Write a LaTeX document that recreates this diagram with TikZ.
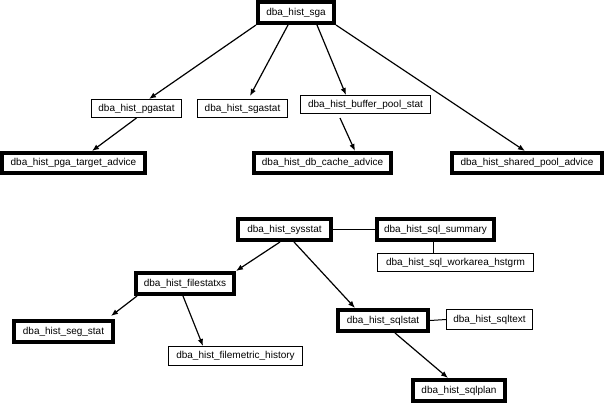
\documentclass[tikz,border=0pt]{standalone}
\usepackage{fontspec}
\setmainfont{Liberation Sans}
\usetikzlibrary{arrows.meta,calc}
\tikzset{
  tbl/.style={draw=black, fill=white, inner sep=0pt, font=\fontsize{10}{12}\selectfont},
  heavy/.style={tbl, line width=4pt},
  light/.style={tbl, line width=1pt},
  link/.style={draw=black, line width=1.2pt, -{Latex[length=7pt,width=5.5pt]}},
  plain/.style={draw=black, line width=1pt},
}
\begin{document}
\begin{tikzpicture}[x=1pt,y=-1pt]
\useasboundingbox (0,0) rectangle (605,404);
% top group
\node[heavy, minimum width=76pt, minimum height=21pt] (sga) at (296,12.5) {dba\_hist\_sga};
\node[light, minimum width=90pt, minimum height=18pt] (pgastat) at (136.5,108.5) {dba\_hist\_pgastat};
\node[light, minimum width=90pt, minimum height=18pt] (sgastat) at (242.5,108.5) {dba\_hist\_sgastat};
\node[light, minimum width=130pt, minimum height=18pt] (buffer) at (365.5,104.5) {dba\_hist\_buffer\_pool\_stat};
\node[heavy, minimum width=143pt, minimum height=20pt] (pgat) at (73.5,163) {dba\_hist\_pga\_target\_advice};
\node[heavy, minimum width=137pt, minimum height=20pt] (dbcache) at (322.5,163) {dba\_hist\_db\_cache\_advice};
\node[heavy, minimum width=150pt, minimum height=20pt] (shpool) at (527,163) {dba\_hist\_shared\_pool\_advice};
% bottom group
\node[heavy, minimum width=93pt, minimum height=21pt] (sysstat) at (284.5,229.5) {dba\_hist\_sysstat};
\node[heavy, minimum width=117pt, minimum height=21pt] (sqlsum) at (435.5,229.5) {dba\_hist\_sql\_summary};
\node[light, minimum width=156pt, minimum height=18pt] (workarea) at (455.5,262.5) {dba\_hist\_sql\_workarea\_hstgrm};
\node[heavy, minimum width=98pt, minimum height=21pt] (filestat) at (185,283.5) {dba\_hist\_filestatxs};
\node[heavy, minimum width=99pt, minimum height=21pt] (segstat) at (63.5,331.5) {dba\_hist\_seg\_stat};
\node[light, minimum width=134pt, minimum height=19pt] (filemetric) at (235.5,356) {dba\_hist\_filemetric\_history};
\node[heavy, minimum width=90pt, minimum height=21pt] (sqlstat) at (383,320.5) {dba\_hist\_sqlstat};
\node[light, minimum width=86pt, minimum height=20pt] (sqltext) at (489.5,319.5) {dba\_hist\_sqltext};
\node[heavy, minimum width=92pt, minimum height=21pt] (sqlplan) at (459,390.5) {dba\_hist\_sqlplan};
% connectors top
\draw[link] (sga.south west) -- ($(pgastat.north)+(12.5,0)$);
\draw[link] ($(sga.south)+(-8,0)$) -- ($(sgastat.north)+(7.5,-3)$);
\draw[link] ($(sga.south)+(21,0)$) -- ($(buffer.north)+(-19.5,0)$);
\draw[link] (sga.south east) -- ($(shpool.north)+(-2,0)$);
\draw[link] ($(pgastat.south)+(0,0)$) -- ($(pgat.north)+(18.5,0)$);
\draw[link] ($(buffer.south)+(-25.5,4)$) -- ($(dbcache.north)+(32.5,0)$);
% connectors bottom
\draw[link] ($(sysstat.south)+(-4.5,0)$) -- ($(filestat.north east)+(0,0)$);
\draw[link] ($(sysstat.south)+(9.5,0)$) -- ($(sqlstat.north)+(-28,0)$);
\draw[plain] (sysstat.east) -- (sqlsum.west);
\draw[plain] ($(sqlsum.south)+(-2.5,0)$) -- ($(workarea.north)+(-22.5,0)$);
\draw[link] ($(filestat.south)+(-48,0)$) -- ($(segstat.north east)+(-4,-3)$);
\draw[link] ($(filestat.south)+(-2,0)$) -- ($(filemetric.north)+(-32.5,0)$);
\draw[plain] (sqlstat.east) -- (sqltext.west);
\draw[link] ($(sqlstat.south)+(12,0)$) -- ($(sqlplan.north)+(-11,0)$);
\end{tikzpicture}
\end{document}
